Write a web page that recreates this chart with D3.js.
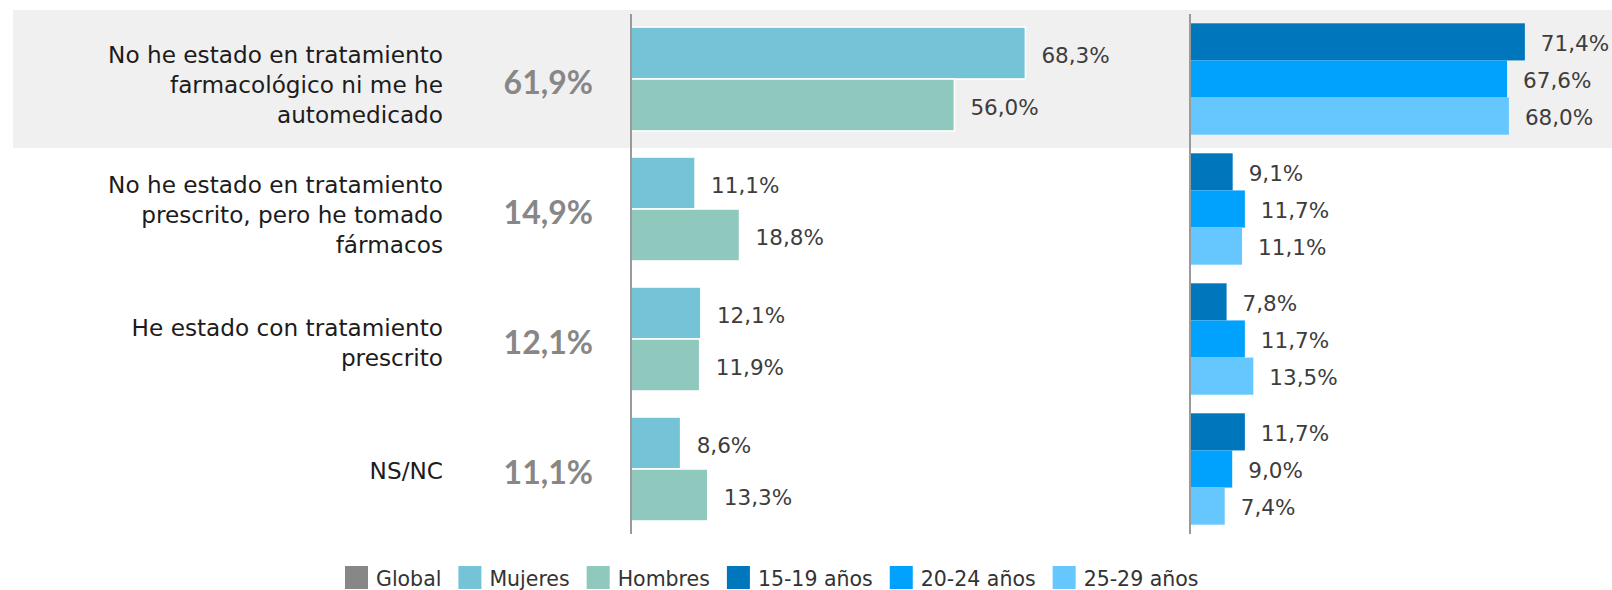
<!DOCTYPE html>
<html>
<head>
<meta charset="utf-8">
<script src="https://cdn.jsdelivr.net/npm/d3@7"></script>
<style>
  html, body { margin: 0; padding: 0; background: #ffffff; }
  svg { display: block; }
</style>
</head>
<body>
<svg id="chart" width="1612" height="590"></svg>
<script>
// Categories (line breaks mark where each label wraps)
const categories = [
  "No he estado en tratamiento\nfarmacológico ni me he\nautomedicado",
  "No he estado en tratamiento\nprescrito, pero he tomado\nfármacos",
  "He estado con tratamiento\nprescrito",
  "NS/NC"
];

// Values (%)
const globalValues = [61.9, 14.9, 12.1, 11.1];
const mujeres      = [68.3, 11.1, 12.1, 8.6];
const hombres      = [56.0, 18.8, 11.9, 13.3];
const edad1519     = [71.4, 9.1, 7.8, 11.7];
const edad2024     = [67.6, 11.7, 11.7, 9.0];
const edad2529     = [68.0, 11.1, 13.5, 7.4];

const sexSeries = ["Mujeres", "Hombres"];
const ageSeries = ["15-19 años", "20-24 años", "25-29 años"];
const legendLabels = ["Global", "Mujeres", "Hombres", "15-19 años", "20-24 años", "25-29 años"];

const colors = {
  "Global": "#878787",
  "Mujeres": "#74c3d6",
  "Hombres": "#8fc8bc",
  "15-19 años": "#0077bc",
  "20-24 años": "#00a2fd",
  "25-29 años": "#66c7fe"
};

const locale = d3.formatLocale({ decimal: ",", thousands: ".", grouping: [3], currency: ["", "€"] });
const fmt = v => locale.format(".1f")(v) + "%";

const svg = d3.select("#chart");

// Row layout
const y = d3.scaleBand().domain(d3.range(categories.length)).range([14, 534]).padding(0);
const rowCenter = i => y(i) + y.bandwidth() / 2;

// Horizontal scales for the two panels
const xSex = d3.scaleLinear().domain([0, 100]).range([631, 1208.5]);
const xAge = d3.scaleLinear().domain([0, 100]).range([1190, 1659]);

// Inner bands
const ySex = d3.scaleBand().domain(sexSeries).range([-52, 52]).padding(0);
const yAge = d3.scaleBand().domain(ageSeries).range([-55.7, 55.7]).padding(0);

// Highlighted first row
svg.append("rect")
  .attr("x", 13).attr("width", 1612 - 13)
  .attr("y", rowCenter(0) - 69).attr("height", 138)
  .attr("fill", "#f0f0f0");

const rows = svg.selectAll("g.row")
  .data(categories.map((c, i) => ({
    i, label: c, global: globalValues[i],
    sex: [{ k: "Mujeres", v: mujeres[i] }, { k: "Hombres", v: hombres[i] }],
    age: [{ k: "15-19 años", v: edad1519[i] }, { k: "20-24 años", v: edad2024[i] }, { k: "25-29 años", v: edad2529[i] }]
  })))
  .join("g")
  .attr("class", "row")
  .attr("transform", d => `translate(0,${rowCenter(d.i)})`);

// Category labels
rows.each(function(d) {
  const lines = d.label.split("\n");
  const n = lines.length;
  const lh = 29.8;
  const off = 1.5 + (n - 1) * 2;
  const t = d3.select(this).append("text")
    .attr("text-anchor", "end")
    .attr("font-family", "DejaVu Sans")
    .attr("font-size", 23.2)
    .attr("fill", "#1c1c1c");
  lines.forEach((ln, j) => {
    t.append("tspan")
      .attr("x", 443)
      .attr("y", (j - (n - 1) / 2) * lh + off)
      .attr("dy", "0.36em")
      .text(ln);
  });
});

// Global value
rows.append("text")
  .attr("x", 593)
  .attr("y", 3.5)
  .attr("dy", "0.36em")
  .attr("text-anchor", "end")
  .attr("font-family", "Lato")
  .attr("font-weight", 700)
  .attr("font-size", 32)
  .attr("fill", colors["Global"])
  .text(d => fmt(d.global));

// Sex bars
const sexG = rows.selectAll("g.sex").data(d => d.sex).join("g").attr("class", "sex");
sexG.append("rect")
  .attr("x", xSex(0))
  .attr("y", d => ySex(d.k))
  .attr("width", d => xSex(d.v) - xSex(0))
  .attr("height", ySex.bandwidth())
  .attr("fill", d => colors[d.k])
  .attr("stroke", "#ffffff")
  .attr("stroke-width", 1.6);
sexG.append("text")
  .attr("x", d => xSex(d.v) + 16)
  .attr("y", d => ySex(d.k) + ySex.bandwidth() / 2 + 2)
  .attr("dy", "0.36em")
  .attr("font-family", "DejaVu Sans")
  .attr("font-size", 21.5)
  .attr("fill", "#3d3d3d")
  .text(d => fmt(d.v));

// Age bars
const ageG = rows.selectAll("g.age").data(d => d.age).join("g").attr("class", "age");
ageG.append("rect")
  .attr("x", xAge(0))
  .attr("y", d => yAge(d.k))
  .attr("width", d => xAge(d.v) - xAge(0))
  .attr("height", yAge.bandwidth())
  .attr("fill", d => colors[d.k]);
ageG.append("text")
  .attr("x", d => xAge(d.v) + 16)
  .attr("y", d => yAge(d.k) + yAge.bandwidth() / 2 + 1)
  .attr("dy", "0.36em")
  .attr("font-family", "DejaVu Sans")
  .attr("font-size", 21.5)
  .attr("fill", "#3d3d3d")
  .text(d => fmt(d.v));

// Baselines of both panels
[xSex(0), xAge(0)].forEach(x0 => {
  svg.append("line")
    .attr("x1", x0).attr("x2", x0)
    .attr("y1", y.range()[0]).attr("y2", y.range()[1])
    .attr("stroke", "#9a9a9a")
    .attr("stroke-width", 2);
});

// Legend
const legend = svg.append("g").attr("transform", "translate(345,566)");
let lx = 0;
legendLabels.forEach(k => {
  const g = legend.append("g").attr("transform", `translate(${lx},0)`);
  g.append("rect").attr("width", 23).attr("height", 23).attr("fill", colors[k]);
  const t = g.append("text")
    .attr("x", 31)
    .attr("y", 13)
    .attr("dy", "0.36em")
    .attr("font-family", "DejaVu Sans")
    .attr("font-size", 20.5)
    .attr("fill", "#333333")
    .text(k);
  lx += 31 + t.node().getComputedTextLength() + 17;
});
</script>
</body>
</html>
